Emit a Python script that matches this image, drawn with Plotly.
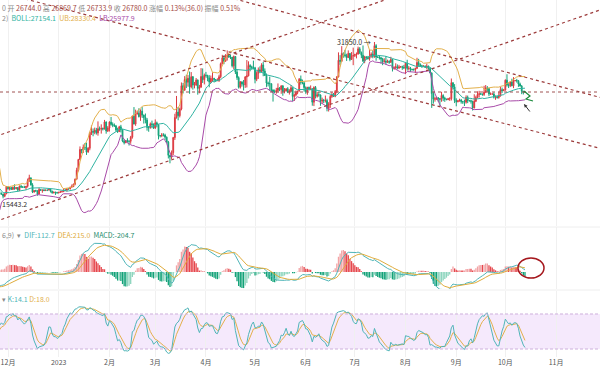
import numpy as np
import pandas as pd
import plotly.graph_objects as go

# ---------------- data (BTC/USDT daily) ----------------
start_date = "2022-10-20"
first_open = 19120.0

close = [
    # Oct 20-31 2022
    19040, 19170, 19210, 19570, 19330, 20080, 20770, 20290, 20600, 20820, 20630, 20490,
    # Nov
    20480, 20150, 20210, 21150, 21300, 20910, 20600, 18540, 15880, 17590, 17060, 16810, 16330, 16620, 16900,
    16660, 16690, 16700, 16660, 16280, 15780, 16590, 16600, 16520, 16460, 16440, 16430, 16210, 16440, 17160,
    # Dec
    16980, 17090, 16890, 17110, 16970, 17090, 16840, 17220, 17130, 17130, 17090, 17210, 17780, 18080, 17360,
    16630, 16780, 16740, 16440, 16900, 16820, 16830, 16780, 16840, 16830, 16920, 16710, 16550, 16630, 16600, 16540,
    # Jan 2023
    16610, 16670, 16670, 16850, 16830, 16950, 16940, 17120, 17180, 17440, 17940, 18850, 19930, 20950, 20870,
    21180, 21130, 20680, 21070, 22670, 22780, 22710, 22910, 22630, 23060, 23010, 23080, 23030, 23740, 22830, 23130,
    # Feb
    23730, 23490, 23430, 23330, 22930, 22760, 23250, 22960, 21800, 21630, 21860, 21780, 21780, 22200, 24330,
    23530, 24570, 24630, 24280, 24840, 24450, 24190, 23950, 23190, 23150, 23550, 23490, 23140,
    # Mar
    23650, 23470, 22360, 22350, 22430, 22410, 22200, 21700, 20360, 20190, 20630, 22160, 24200, 24750, 24380,
    25050, 27420, 26970, 28040, 27770, 28170, 27300, 28330, 27480, 27490, 27990, 27140, 27270, 28350, 28030, 28480,
    # Apr
    28460, 28200, 27800, 28170, 28180, 28040, 27920, 27950, 28330, 29650, 30240, 29900, 30390, 30490, 30320,
    30320, 29430, 30380, 28800, 28240, 27260, 27820, 27590, 27510, 28300, 28420, 29470, 29340, 29250, 29230,
    # May
    28070, 28680, 29030, 28850, 29530, 28900, 28450, 27690, 27630, 27620, 26980, 26800, 26780, 26930, 27170,
    27030, 27400, 26830, 26890, 27110, 26750, 26850, 27220, 26330, 26480, 26720, 26870, 28080, 27740, 27700, 27220,
    # Jun
    26820, 27250, 27070, 27120, 25750, 27240, 26340, 26500, 26480, 25850, 25940, 25900, 25920, 25120, 25580,
    26330, 26510, 26340, 26840, 28310, 30000, 29900, 30690, 30550, 30470, 30270, 30700, 30080, 30450, 30470,
    # Jul
    30590, 30620, 31160, 30770, 30510, 29900, 30350, 30290, 30170, 30410, 30620, 30390, 31480, 30330, 30300,
    30250, 30140, 29860, 29910, 29800, 29900, 29790, 30080, 29180, 29230, 29350, 29220, 29310, 29350, 29280, 29230,
    # Aug
    29700, 29170, 29180, 29090, 29050, 29040, 29180, 29770, 29570, 29430, 29400, 29420, 29280, 29410, 29170,
    28700, 26620, 26050, 26090, 26190, 26120, 26040, 26430, 26160, 26060, 26000, 26090, 26100, 27720, 27300, 25930,
    # Sep
    25800, 25870, 25970, 25810, 25780, 25750, 26240, 25900, 25900, 25840, 25160, 25840, 26220, 26530, 26600,
    26570, 26530, 26760, 27210, 27130, 26570, 26580, 26580, 26250, 26300, 26220, 26370, 27020, 26910, 26970,
    # Oct 1-13
    27980, 27500, 27430, 27790, 27410, 27930, 27950, 27920, 27590, 27390, 26870, 26744.0, 26780.0,
]

high = [
    19350, 19250, 19260, 19700, 19600, 20400, 21020, 20880, 20750, 21080, 20930, 20840,
    20700, 20800, 20390, 21300, 21480, 21370, 21050, 20700, 18600, 18150, 17650, 17080, 16880, 17190, 17130,
    17000, 16750, 17000, 16810, 16730, 16290, 16640, 16770, 16810, 16560, 16690, 16600, 16480, 16530, 17250,
    17200, 17110, 17160, 17200, 17420, 17110, 17140, 17300, 17360, 17230, 17270, 17240, 18000, 18390, 18050,
    17530, 16800, 16870, 16820, 17060, 16900, 16870, 16960, 16860, 16870, 16940, 16970, 16780, 16670, 16640, 16650,
    16630, 16760, 16770, 17000, 16880, 17020, 16970, 17180, 17400, 17490, 18000, 19100, 20000, 21260, 21000,
    21460, 21600, 21650, 21190, 22750, 23380, 23080, 23170, 23140, 23800, 23280, 23500, 23180, 23950, 23800, 23320,
    23810, 24250, 23700, 23590, 23440, 23160, 23350, 23450, 23000, 21940, 21900, 22090, 21880, 22330, 24380,
    25250, 24990, 24880, 25130, 25020, 25250, 24480, 24600, 24150, 23220, 23690, 23880, 23600,
    24000, 23780, 23480, 22410, 22620, 22600, 22550, 22270, 21820, 20370, 20850, 22230, 24570, 26380, 25250,
    25200, 27750, 27700, 28390, 28530, 28500, 28860, 28800, 28400, 27800, 28200, 28050, 27500, 29200, 29170, 28650,
    28820, 28530, 28490, 28450, 28780, 28200, 28100, 28170, 28530, 29770, 30550, 30500, 30620, 31000, 30600,
    30550, 30330, 30480, 30410, 29090, 28370, 27880, 27820, 28000, 28400, 30020, 29890, 29600, 29450, 29960,
    29330, 28880, 29270, 29380, 29700, 29830, 29170, 28660, 27830, 28340, 27640, 27050, 27030, 27200, 27650,
    27280, 27470, 27480, 27180, 27150, 27270, 27060, 27480, 27210, 26620, 26930, 26900, 28200, 28450, 28040, 27830,
    27350, 27300, 27330, 27450, 27130, 27360, 27390, 26800, 26780, 26530, 26210, 26080, 26420, 26100, 25750,
    26480, 26770, 26680, 26980, 28400, 30800, 30520, 31430, 30800, 31050, 30660, 31000, 30700, 30830, 31280,
    30660, 30790, 31380, 31330, 30890, 31500, 30450, 30390, 30440, 31040, 30800, 30990, 31850.0, 31630, 30400,
    30450, 30340, 30240, 30200, 30420, 30060, 29990, 30350, 30100, 29390, 29690, 29580, 29530, 29410, 29450, 29530,
    29740, 30050, 29410, 29320, 29130, 29170, 29250, 30250, 30140, 29690, 29540, 29470, 29460, 29660, 29450,
    29230, 28780, 26830, 26280, 26300, 26260, 26130, 26800, 26550, 26300, 26100, 26180, 26250, 28150, 27760, 27580,
    26140, 25980, 26100, 26080, 25880, 26010, 26440, 26420, 25950, 26000, 25890, 26550, 26400, 26850, 26900,
    26670, 26620, 27410, 27490, 27380, 27160, 26740, 26640, 26740, 26430, 26400, 26820, 27310, 27230, 27090,
    28060, 28580, 27670, 27850, 28130, 28290, 28000, 28110, 27990, 27730, 27480, 26820, 26869.7,
]

low = [
    18900, 18650, 19110, 19070, 19160, 19240, 20060, 20200, 20000, 20560, 20510, 20250,
    20340, 20050, 20030, 20180, 21080, 20890, 20390, 17170, 15590, 15750, 16360, 16760, 16230, 15820, 16540,
    16410, 16400, 16550, 16550, 16170, 15443.2, 15620, 16470, 16460, 16330, 16400, 16400, 15995, 16110, 16430,
    16870, 16790, 16860, 16880, 16870, 16910, 16680, 16730, 17070, 17090, 17070, 16870, 17090, 17660, 17280,
    16530, 16580, 16670, 16260, 16400, 16750, 16560, 16750, 16790, 16730, 16800, 16590, 16470, 16500, 16340, 16490,
    16500, 16550, 16600, 16660, 16750, 16680, 16910, 16910, 17100, 17150, 17320, 17900, 18720, 19890, 20550,
    20600, 20900, 20400, 20650, 20870, 22420, 22290, 22500, 22460, 22350, 22850, 22560, 22880, 22980, 22550, 22720,
    22770, 23360, 23210, 23250, 22760, 22630, 22740, 22680, 21690, 21460, 21600, 21640, 21350, 21530, 22050,
    23500, 23350, 24490, 24200, 23850, 24150, 23580, 23600, 22860, 22750, 23070, 23100, 23030,
    23030, 23200, 21970, 22170, 22200, 22270, 21930, 21580, 20040, 19550, 19980, 20390, 21920, 24080, 23910,
    24200, 24920, 26630, 26910, 27180, 27330, 26600, 27150, 27020, 27150, 27400, 26510, 26650, 27220, 27700, 27550,
    28250, 27870, 27260, 27680, 27830, 27740, 27790, 27890, 27800, 28170, 29600, 29600, 29870, 29970, 30230,
    30120, 29270, 29110, 28600, 28010, 27130, 27130, 27330, 26940, 27200, 27240, 28370, 28880, 29030, 29080,
    27660, 27880, 28110, 28690, 28800, 28380, 28400, 27300, 27340, 26900, 26760, 25810, 26690, 26600, 26730,
    26870, 26600, 26400, 26640, 26830, 26670, 26520, 26800, 25870, 25870, 26330, 26550, 26840, 27530, 27560, 26820,
    26600, 26500, 26920, 26960, 25390, 25350, 26120, 26210, 26300, 25380, 25610, 25660, 25720, 24820, 24800,
    25170, 26180, 26270, 26250, 26650, 28260, 29530, 29820, 30260, 30290, 29930, 30230, 29900, 30040, 29500,
    30330, 30190, 30600, 30630, 30210, 29850, 29700, 30050, 30060, 29950, 30250, 30200, 30250, 29950, 30250,
    30070, 29650, 29500, 29750, 29560, 29720, 29640, 29730, 28860, 29040, 29100, 29070, 29100, 29250, 29030, 29100,
    28590, 28950, 28960, 28810, 28960, 28950, 28700, 29110, 29360, 29320, 29230, 29360, 29260, 29080, 29060,
    28700, 25166, 25600, 25800, 25980, 25800, 25350, 25790, 25850, 25780, 25960, 25960, 25880, 25920, 27020, 25660,
    25330, 25730, 25810, 25600, 25570, 25360, 25600, 25650, 25810, 25600, 24900, 25130, 25760, 26130, 26220,
    26480, 26400, 26380, 26670, 26800, 26360, 26480, 26500, 26120, 25990, 26110, 26100, 26320, 26670, 26890,
    26960, 27330, 27180, 27280, 27360, 27170, 27860, 27730, 27300, 27330, 26560, 26530, 26733.9,
]

month_ticks = ["2022-12-01", "2023-01-01", "2023-02-01", "2023-03-01", "2023-04-01", "2023-05-01",
               "2023-06-01", "2023-07-01", "2023-08-01", "2023-09-01", "2023-10-01", "2023-11-01", "2023-12-01"]
month_labels = ["12月", "2023", "2月", "3月", "4月", "5月", "6月", "7月", "8月", "9月", "10月", "11月", "12月"]

# drawn trend lines (date, price) end points
trend_lines = [
    (["2022-11-20", "2023-11-28"], [13450, 35110]),   # rising lower line
    (["2022-11-20", "2023-07-21"], [22070, 36210]),   # rising upper line
    (["2023-04-15", "2023-11-28"], [36380, 26230]),   # falling upper line
    (["2022-12-08", "2023-11-28"], [36370, 21060]),   # falling lower line
]
high_mark = ("2023-07-13", 31850.0)
low_mark = 15443.2

# ---------------- frame + indicators ----------------
assert len(close) == len(high) == len(low)
dates = pd.date_range(start_date, periods=len(close), freq="D")
c = pd.Series(close, index=dates, dtype=float)
o = pd.Series([first_open] + close[:-1], index=dates, dtype=float)
h = pd.Series(np.maximum.reduce([np.array(high, float), o.values, c.values]), index=dates)
l = pd.Series(np.minimum.reduce([np.array(low, float), o.values, c.values]), index=dates)

mid = c.rolling(20).mean()
sd = c.rolling(20).std(ddof=0)
ub = mid + 2 * sd
lb = mid - 2 * sd

ema12 = c.ewm(span=12, adjust=False).mean()
ema26 = c.ewm(span=26, adjust=False).mean()
dif = ema12 - ema26
dea = dif.ewm(span=9, adjust=False).mean()
hist = 2 * (dif - dea)

llv = l.rolling(9, min_periods=1).min()
hhv = h.rolling(9, min_periods=1).max()
rsv = (c - llv) / (hhv - llv) * 100
K, D = [], []
kp, dp = 50.0, 50.0
for v in rsv.values:
    kp = 2 / 3 * kp + v / 3
    dp = 2 / 3 * dp + kp / 3
    K.append(kp)
    D.append(dp)

# ---------------- styling ----------------
W, H_PLOT = 600, 357
RED, GREEN = "#dc3a40", "#14a37a"
C_MID, C_UB, C_LB = "#2fb3a2", "#e3b04b", "#a84aa8"
C_DIF, C_DEA = "#4fb5b8", "#e0ac3c"
TREND = "#9c3a3a"
FONT = "Noto Sans CJK SC, Noto Sans, sans-serif"
xr = ["2022-11-26 02:40", "2023-11-27 20:40"]


def py(ypix):
    return 1 - ypix / H_PLOT


def px(xpix):
    return xpix / W


fig = go.Figure()

# main pane
fig.add_trace(go.Candlestick(
    x=dates, open=o, high=h, low=l, close=c,
    increasing=dict(line=dict(color=RED, width=1), fillcolor=RED),
    decreasing=dict(line=dict(color=GREEN, width=1), fillcolor=GREEN),
    xaxis="x", yaxis="y", hoverinfo="skip"))
for s, col in ((ub, C_UB), (mid, C_MID), (lb, C_LB)):
    fig.add_trace(go.Scatter(x=dates, y=s, mode="lines", line=dict(color=col, width=1),
                             xaxis="x", yaxis="y", hoverinfo="skip"))
for xs, ys in trend_lines:
    fig.add_trace(go.Scatter(x=xs, y=ys, mode="lines", line=dict(color=TREND, width=1.2, dash="dot"),
                             xaxis="x", yaxis="y", hoverinfo="skip"))

# MACD pane
prev = hist.shift(1)
bar_cols = []
for v, p in zip(hist.values, prev.values):
    rising = (not np.isnan(p)) and v > p
    if v >= 0:
        bar_cols.append("#f2a3a5" if rising else "#e6474d")
    else:
        bar_cols.append("#8dd5be" if rising else "#12a278")
fig.add_trace(go.Bar(x=dates, y=hist, marker=dict(color=bar_cols, line=dict(width=0)),
                     width=0.8 * 86400000, xaxis="x2", yaxis="y2", hoverinfo="skip"))
fig.add_trace(go.Scatter(x=dates, y=dif, mode="lines", line=dict(color=C_DIF, width=1),
                         xaxis="x2", yaxis="y2", hoverinfo="skip"))
fig.add_trace(go.Scatter(x=dates, y=dea, mode="lines", line=dict(color=C_DEA, width=1),
                         xaxis="x2", yaxis="y2", hoverinfo="skip"))

# KDJ pane
fig.add_trace(go.Scatter(x=dates, y=D, mode="lines", line=dict(color=C_UB, width=1),
                         xaxis="x3", yaxis="y3", hoverinfo="skip"))
fig.add_trace(go.Scatter(x=dates, y=K, mode="lines", line=dict(color=C_DIF, width=1),
                         xaxis="x3", yaxis="y3", hoverinfo="skip"))

xcommon = dict(type="date", range=xr, tickvals=month_ticks, ticktext=month_labels,
               showgrid=True, gridcolor="#f0f0f0", gridwidth=1, zeroline=False,
               showline=False, ticks="", fixedrange=True)
fig.update_layout(
    width=W, height=372, margin=dict(l=0, r=0, t=0, b=372 - H_PLOT),
    paper_bgcolor="white", plot_bgcolor="white", showlegend=False,
    font=dict(family=FONT, size=7, color="#555"),
    xaxis=dict(**xcommon, domain=[0, 1], anchor="y", showticklabels=False, rangeslider=dict(visible=False)),
    xaxis2=dict(**xcommon, domain=[0, 1], anchor="y2", showticklabels=False),
    xaxis3=dict(**xcommon, domain=[0, 1], anchor="y3", showticklabels=True,
                tickfont=dict(family=FONT, size=7, color="#555")),
    yaxis=dict(domain=[py(226), 1], range=[13190, 36111], showticklabels=False,
               showgrid=False, zeroline=False, fixedrange=True),
    yaxis2=dict(domain=[py(289), py(227)], range=[-880, 2330], showticklabels=False,
                showgrid=False, zeroline=False, fixedrange=True),
    yaxis3=dict(domain=[0, py(291)], range=[6.3, 119.4], showticklabels=False,
                showgrid=False, zeroline=False, fixedrange=True),
    bargap=0.1,
)

shapes = [
    # last price dashed line
    dict(type="line", xref="paper", x0=0, x1=1, yref="y", y0=close[-1], y1=close[-1],
         line=dict(color="#a05252", width=1, dash="3px,3px")),
    # KDJ band
    dict(type="rect", xref="paper", x0=0, x1=1, yref="y3", y0=20, y1=80,
         fillcolor="#f5e9fc", line=dict(width=0), layer="below"),
    dict(type="line", xref="paper", x0=0, x1=1, yref="y3", y0=80, y1=80,
         line=dict(color="#cdb0dc", width=1, dash="3px,2px")),
    dict(type="line", xref="paper", x0=0, x1=1, yref="y3", y0=20, y1=20,
         line=dict(color="#cdb0dc", width=1, dash="3px,2px")),
    # pane separators
    dict(type="line", xref="paper", x0=0, x1=1, yref="paper", y0=py(227), y1=py(227),
         line=dict(color="#eeeeee", width=1)),
    dict(type="line", xref="paper", x0=0, x1=1, yref="paper", y0=py(290), y1=py(290),
         line=dict(color="#eeeeee", width=1)),
    # red ellipse in MACD pane
    dict(type="circle", xref="paper", yref="paper", x0=px(518), x1=px(544), y0=py(278), y1=py(258),
         line=dict(color="#a5171d", width=1.5)),
    # green scribble near the last candle
    dict(type="path", xref="paper", yref="paper",
         path=f"M {px(524)} {py(91)} L {px(530)} {py(96)} L {px(526)} {py(99)} L {px(533)} {py(101)}",
         line=dict(color="#1b8a3c", width=1.2)),
]
fig.update_layout(shapes=shapes)

V = "#a54a45"
G = "#8a8a8a"
line1 = (f'<span style="color:{G}">0 开 </span><span style="color:{V}">26744.0</span>'
         f'<span style="color:{G}"> 高 </span><span style="color:{V}">26869.7</span>'
         f'<span style="color:{G}"> 低 </span><span style="color:{V}">26733.9</span>'
         f'<span style="color:{G}"> 收 </span><span style="color:{V}">26780.0</span>'
         f'<span style="color:{G}"> 涨幅 </span><span style="color:{V}">0.13%(36.0)</span>'
         f'<span style="color:{G}"> 振幅 </span><span style="color:{V}">0.51%</span>')
line2 = (f'<span style="color:{G}">2)  </span><span style="color:{C_MID}">BOLL:27154.1</span>  '
         f'<span style="color:{C_UB}">UB:28330.4</span>  <span style="color:{C_LB}">LB:25977.9</span>')
line3 = (f'<span style="color:{G}">6,9)  ▾  </span><span style="color:{C_DIF}">DIF:112.7</span>  '
         f'<span style="color:{C_DEA}">DEA:215.0</span>  <span style="color:#1e8c6c">MACD:-204.7</span>')
line4 = (f'<span style="color:{G}">▾ </span><span style="color:{C_DIF}">K:14.1</span> '
         f'<span style="color:{C_UB}">D:18.0</span>')

ann = []
for txt, yp in ((line1, 8), (line2, 18), (line3, 235), (line4, 299)):
    ann.append(dict(xref="paper", yref="paper", x=0, y=py(yp), xanchor="left", yanchor="middle",
                    text=txt, showarrow=False, font=dict(family=FONT, size=7)))
ann.append(dict(xref="x", yref="y", x=high_mark[0], y=high_mark[1], xanchor="right", yanchor="middle",
                xshift=-1, text="31850.0 →", showarrow=False, font=dict(family=FONT, size=7, color="#333")))
ann.append(dict(xref="paper", yref="y", x=0, y=low_mark, xanchor="left", yanchor="middle",
                text="15443.2", showarrow=False, font=dict(family=FONT, size=7, color="#333")))
ann.append(dict(xref="paper", yref="paper", x=px(524), y=py(104), ax=7, ay=9, text="",
                showarrow=True, arrowhead=2, arrowsize=0.7, arrowwidth=1, arrowcolor="#333"))
fig.update_layout(annotations=ann)

fig.write_html("out.html",
               config={"displayModeBar": False, "staticPlot": True},
               post_script="document.body.style.margin='0';document.body.style.padding='0';"
                           "document.body.style.overflow='hidden';")
